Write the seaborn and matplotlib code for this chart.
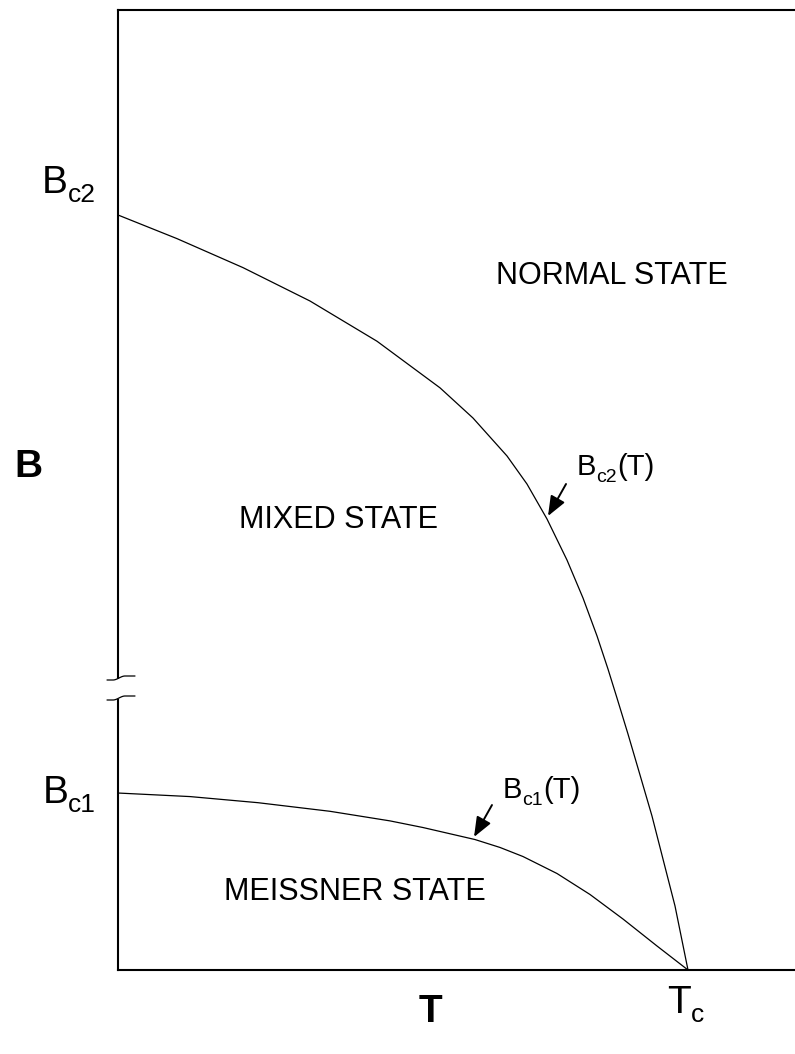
import numpy as np
import matplotlib
matplotlib.use("Agg")
import matplotlib.pyplot as plt
import seaborn as sns

# Upper critical field Bc2(T), normalised to Tc = 1 and Bc2(0) = 1
bc2_t = [0.000, 0.1035, 0.2193, 0.3368, 0.4544, 0.5649, 0.6228, 0.6825, 0.7175,
         0.7526, 0.7877, 0.8158, 0.8404, 0.8596, 0.8754, 0.8947, 0.9158, 0.9368,
         0.9561, 0.9772, 1.000]
bc2_b = [1.000, 0.9687, 0.9303, 0.8861, 0.8328, 0.7711, 0.7311, 0.6808, 0.6437,
         0.5974, 0.5430, 0.4927, 0.4424, 0.3987, 0.3603, 0.3126, 0.2583, 0.2040,
         0.1470, 0.0848, 0.000]

# Lower critical field Bc1(T)
bc1_t = [0.000, 0.1263, 0.2456, 0.3719, 0.4772, 0.5351, 0.6263, 0.6702, 0.7105,
         0.7702, 0.8281, 0.8860, 0.9456, 1.000]
bc1_b = [0.2344, 0.2297, 0.2216, 0.2102, 0.1975, 0.1887, 0.1728, 0.1623, 0.1503,
         0.1278, 0.1000, 0.0675, 0.0318, 0.000]

region_names = ["NORMAL STATE", "MIXED STATE", "MEISSNER STATE"]

BC2 = bc2_b[0]
BC1 = bc1_b[0]
TC = bc2_t[-1]

sns.set_style("white")
plt.rcParams["font.family"] = ["Liberation Sans", "DejaVu Sans"]
plt.rcParams["text.color"] = "black"
plt.rcParams["axes.labelcolor"] = "black"

W, H = 795, 1054
fig = plt.figure(figsize=(W / 100, H / 100), dpi=100)
ax = fig.add_axes([118 / W, 84 / H, 677 / W, 960 / H])

ax.set_xlim(0, 677 / 570)
ax.set_ylim(0, 960 / 755)

sns.lineplot(x=bc2_t, y=bc2_b, ax=ax, color="black", lw=0.9)
sns.lineplot(x=bc1_t, y=bc1_b, ax=ax, color="black", lw=0.9)

for side in ("left", "top", "bottom"):
    ax.spines[side].set_linewidth(1.5)
    ax.spines[side].set_color("black")
ax.spines["right"].set_visible(False)
ax.set_xticks([])
ax.set_yticks([])

# axis titles
ax.set_xlabel("T", fontsize=28, fontweight="bold")
ax.xaxis.set_label_coords((430 - 118) / 677, (970 - 994) / 960)
ax.set_ylabel("B", fontsize=28, fontweight="bold", rotation=0, ha="center", va="center")
ax.yaxis.set_label_coords((28 - 118) / 677, (970 - 467) / 960)

renderer = fig.canvas.get_renderer()


def composite(xy, parts, dx, dy, ha="left"):
    """Lay out text pieces side by side; each part is (text, size, baseline shift px)."""
    texts, widths = [], []
    for s, fs, _ in parts:
        t = ax.annotate(s, xy=xy, xytext=(0, 0), textcoords="offset pixels",
                        fontsize=fs, ha="left", va="baseline", annotation_clip=False)
        texts.append(t)
        widths.append(t.get_window_extent(renderer).width)
    total = sum(widths)
    x = dx - {"left": 0, "center": total / 2, "right": total}[ha]
    for t, w, (_, _, sh) in zip(texts, widths, parts):
        t.xyann = (x, dy + sh)
        x += w


# critical values on the axes
composite((0, BC2), [("B", 28, 0), ("c2", 19, -9)], -22, 22, ha="right")
composite((0, BC1), [("B", 28, 0), ("c1", 19, -9)], -22, -10, ha="right")
composite((TC, 0), [("T", 28, 0), ("c", 19, -9)], -21, -43, ha="left")

# phase regions
region_pos = [(0.8667, 0.9192), (0.3877, 0.5960), (0.4158, 0.1033)]
for name, (tx, by) in zip(region_names, region_pos):
    ax.text(tx, by, name, fontsize=22, ha="center", va="center")

# curve labels with arrows
arrow_kw = dict(arrowstyle="-|>,head_length=0.6,head_width=0.24", color="black",
                lw=1.4, shrinkA=0, shrinkB=0, mutation_scale=20)
composite((0.8053, 0.6556), [("B", 21, 0), ("c2", 14, -7), ("(T)", 21, 0)], 0, 0)
ax.annotate("", xy=(0.7544, 0.6013), xytext=(0.786, 0.6437), arrowprops=arrow_kw)
composite((0.6754, 0.2278), [("B", 21, 0), ("c1", 14, -7), ("(T)", 21, 0)], 0, 0)
ax.annotate("", xy=(0.6246, 0.1762), xytext=(0.6561, 0.2185), arrowprops=arrow_kw)


# break marks on the B axis
def px(xp, yp):
    return (xp - 118) / 570, (970 - yp) / 755


x0, y_lo = px(112, 699)
x1, y_hi = px(124, 679)
ax.fill_between([x0, x1], [y_lo, y_lo], [y_hi, y_hi], color="white", zorder=5,
                clip_on=False, lw=0)
xs = np.linspace(107, 135, 60)
step = np.clip((xs - 113) / 12, 0, 1)
step = step * step * (3 - 2 * step)
for y0 in (680, 700):
    ys = y0 - 4 * step
    pts = [px(a, b) for a, b in zip(xs, ys)]
    ax.plot([p[0] for p in pts], [p[1] for p in pts], color="black", lw=0.9,
            zorder=6, clip_on=False)

fig.savefig("out.png", dpi=100, facecolor="white")
